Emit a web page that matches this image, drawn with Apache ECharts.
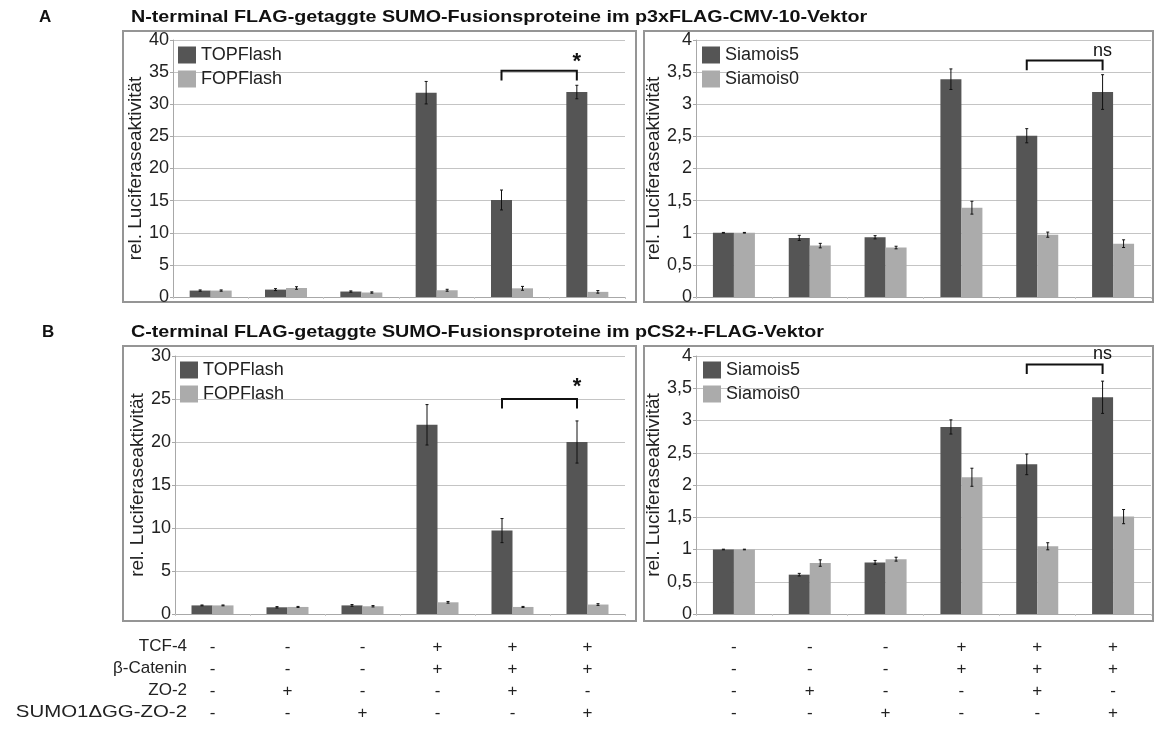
<!DOCTYPE html>
<html>
<head>
<meta charset="utf-8">
<script src="https://cdn.jsdelivr.net/npm/echarts@6/dist/echarts.min.js"></script>
<style>
  html, body { margin: 0; padding: 0; background: #ffffff; }
  #chart { width: 1155px; height: 736px; }
</style>
</head>
<body>
<div id="chart"></div>
<script>
// Transfection conditions per bar group
const conditionRows = ['TCF-4', 'β-Catenin', 'ZO-2', 'SUMO1ΔGG-ZO-2'];
const tcf4     = ['-', '-', '-', '+', '+', '+'];
const bCatenin = ['-', '-', '-', '+', '+', '+'];
const zo2      = ['-', '+', '-', '-', '+', '-'];
const sumoZo2  = ['-', '-', '+', '-', '-', '+'];

// A: N-terminal FLAG fusions (p3xFLAG-CMV-10)
const aTop      = [1.0, 1.15, 0.85, 31.8, 15.1, 31.9];
const aTopErr   = [0.1, 0.15, 0.1, 1.75, 1.55, 1.05];
const aFop      = [1.0, 1.4, 0.7, 1.05, 1.35, 0.8];
const aFopErr   = [0.1, 0.2, 0.1, 0.15, 0.3, 0.2];
const aSia5     = [1.0, 0.92, 0.93, 3.39, 2.51, 3.19];
const aSia5Err  = [0.005, 0.04, 0.025, 0.16, 0.11, 0.27];
const aSia0     = [1.0, 0.80, 0.77, 1.39, 0.97, 0.83];
const aSia0Err  = [0.005, 0.035, 0.02, 0.1, 0.04, 0.06];

// B: C-terminal FLAG fusions (pCS2+-FLAG)
const bTop      = [1.0, 0.78, 1.0, 22.0, 9.7, 20.0];
const bTopErr   = [0.05, 0.08, 0.1, 2.35, 1.4, 2.45];
const bFop      = [1.0, 0.82, 0.9, 1.36, 0.82, 1.1];
const bFopErr   = [0.05, 0.06, 0.08, 0.1, 0.06, 0.1];
const bSia5     = [1.0, 0.61, 0.80, 2.90, 2.32, 3.36];
const bSia5Err  = [0.005, 0.02, 0.03, 0.11, 0.16, 0.25];
const bSia0     = [1.0, 0.79, 0.85, 2.12, 1.05, 1.51];
const bSia0Err  = [0.005, 0.05, 0.03, 0.14, 0.055, 0.11];

// Significance brackets: [fromGroup, toGroup, lineValue, tipValue, labelValue, label]
const aTopBracket = [4, 5, 35.2, 33.7, 36.6, '*'];
const aSiaBracket = [4, 5, 3.68, 3.53, 3.83, 'ns'];
const bTopBracket = [4, 5, 25.0, 23.9, 26.4, '*'];
const bSiaBracket = [4, 5, 3.87, 3.72, 4.03, 'ns'];

const titleA = 'N-terminal FLAG-getaggte SUMO-Fusionsproteine im p3xFLAG-CMV-10-Vektor';
const titleB = 'C-terminal FLAG-getaggte SUMO-Fusionsproteine im pCS2+-FLAG-Vektor';
const yName = 'rel. Luciferaseaktivität';

const FONT = "'Liberation Sans', Arial, sans-serif";
const DARK = '#555555';
const LIGHT = '#ababab';
const BAR_W = 21;

const categories = tcf4.map((_, i) => [tcf4[i], bCatenin[i], zo2[i], sumoZo2[i]].join('\n'));

const grids = [
  { left: 173, top: 40, width: 452, height: 257 },
  { left: 696, top: 40, width: 455, height: 257 },
  { left: 175, top: 356, width: 450, height: 258 },
  { left: 696, top: 356, width: 455, height: 258 }
];

const yScales = [
  { max: 40, interval: 5 },
  { max: 4, interval: 0.5 },
  { max: 30, interval: 5 },
  { max: 4, interval: 0.5 }
];

const xAxes = grids.map((g, i) => ({
  type: 'category',
  gridIndex: i,
  data: categories,
  axisLine: { show: true, lineStyle: { color: '#a8a8a8', width: 1 } },
  axisTick: { show: true, length: 2, lineStyle: { color: '#c8c8c8' } },
  axisLabel: {
    show: i >= 2,
    interval: 0,
    margin: 22,
    fontFamily: FONT,
    fontSize: 17,
    lineHeight: 22,
    color: '#222222'
  }
}));

const yAxes = yScales.map((s, i) => ({
  type: 'value',
  gridIndex: i,
  min: 0,
  max: s.max,
  interval: s.interval,
  name: yName,
  nameLocation: 'middle',
  nameGap: 28,
  nameTextStyle: { fontFamily: FONT, fontSize: 19, color: '#222222' },
  axisLine: { show: true, lineStyle: { color: '#a8a8a8', width: 1 } },
  axisTick: { show: true, length: 3, lineStyle: { color: '#a8a8a8' } },
  axisLabel: {
    margin: 4,
    fontFamily: FONT,
    fontSize: 18,
    color: '#222222',
    formatter: v => String(v).replace('.', ',')
  },
  splitLine: { show: true, lineStyle: { color: '#c4c4c4', width: 1 } }
}));

function barSeries(name, values, gridIdx, color) {
  return {
    type: 'bar',
    name: name,
    xAxisIndex: gridIdx,
    yAxisIndex: gridIdx,
    data: values,
    barWidth: BAR_W,
    barGap: '0%',
    itemStyle: { color: color },
    silent: true
  };
}

function errorSeries(values, errs, gridIdx, offset) {
  return {
    type: 'custom',
    xAxisIndex: gridIdx,
    yAxisIndex: gridIdx,
    silent: true,
    z: 5,
    data: values.map((v, i) => [i, v, errs[i]]),
    renderItem: function (params, api) {
      const i = api.value(0), v = api.value(1), e = api.value(2);
      const hi = api.coord([i, v + e]);
      const lo = api.coord([i, v - e]);
      const x = hi[0] + offset;
      const style = { stroke: '#111111', lineWidth: 1 };
      return {
        type: 'group',
        children: [
          { type: 'line', shape: { x1: x, y1: hi[1], x2: x, y2: lo[1] }, style: style },
          { type: 'line', shape: { x1: x - 1.5, y1: hi[1], x2: x + 1.5, y2: hi[1] }, style: style },
          { type: 'line', shape: { x1: x - 1.5, y1: lo[1], x2: x + 1.5, y2: lo[1] }, style: style }
        ]
      };
    }
  };
}

function bracketSeries(b, gridIdx) {
  const isStar = b[5] === '*';
  return {
    type: 'custom',
    xAxisIndex: gridIdx,
    yAxisIndex: gridIdx,
    silent: true,
    clip: false,
    z: 6,
    data: [b.slice(0, 5)],
    renderItem: function (params, api) {
      const off = -BAR_W / 2;
      const a1 = api.coord([api.value(0), api.value(2)]);
      const a2 = api.coord([api.value(1), api.value(2)]);
      const t1 = api.coord([api.value(0), api.value(3)]);
      const t2 = api.coord([api.value(1), api.value(3)]);
      const lab = api.coord([(api.value(0) + api.value(1)) / 2, api.value(4)]);
      return {
        type: 'group',
        children: [
          {
            type: 'polyline',
            shape: { points: [[t1[0] + off, t1[1]], [a1[0] + off, a1[1]], [a2[0] + off, a2[1]], [t2[0] + off, t2[1]]] },
            style: { stroke: '#111111', lineWidth: 2, fill: null }
          },
          {
            type: 'text',
            style: {
              text: b[5],
              x: lab[0] + off,
              y: lab[1],
              align: 'center',
              verticalAlign: 'middle',
              font: (isStar ? 'bold 22px ' : '18px ') + FONT,
              fill: '#111111'
            }
          }
        ]
      };
    }
  };
}

const series = [
  barSeries('TOPFlash', aTop, 0, DARK),
  barSeries('FOPFlash', aFop, 0, LIGHT),
  errorSeries(aTop, aTopErr, 0, -BAR_W / 2),
  errorSeries(aFop, aFopErr, 0, BAR_W / 2),
  bracketSeries(aTopBracket, 0),

  barSeries('Siamois5', aSia5, 1, DARK),
  barSeries('Siamois0', aSia0, 1, LIGHT),
  errorSeries(aSia5, aSia5Err, 1, -BAR_W / 2),
  errorSeries(aSia0, aSia0Err, 1, BAR_W / 2),
  bracketSeries(aSiaBracket, 1),

  barSeries('TOPFlash', bTop, 2, DARK),
  barSeries('FOPFlash', bFop, 2, LIGHT),
  errorSeries(bTop, bTopErr, 2, -BAR_W / 2),
  errorSeries(bFop, bFopErr, 2, BAR_W / 2),
  bracketSeries(bTopBracket, 2),

  barSeries('Siamois5', bSia5, 3, DARK),
  barSeries('Siamois0', bSia0, 3, LIGHT),
  errorSeries(bSia5, bSia5Err, 3, -BAR_W / 2),
  errorSeries(bSia0, bSia0Err, 3, BAR_W / 2),
  bracketSeries(bSiaBracket, 3)
];

function legend(names, left, top) {
  return {
    data: names,
    orient: 'vertical',
    left: left,
    top: top,
    padding: 0,
    icon: 'rect',
    itemWidth: 18,
    itemHeight: 17,
    itemGap: 6,
    selectedMode: false,
    textStyle: { fontFamily: FONT, fontSize: 18, color: '#222222' }
  };
}

// Titles are set in a slightly widened bold face
function heading(text, x, y) {
  return {
    type: 'text',
    silent: true,
    x: x,
    y: y,
    scaleX: 1.16,
    style: { text: text, x: 0, y: 0, verticalAlign: 'middle', font: 'bold 17px ' + FONT, fill: '#111111' }
  };
}

const boxStyle = { stroke: '#959595', lineWidth: 2, fill: null };
const graphics = [
  { type: 'rect', shape: { x: 123, y: 31, width: 513, height: 271 }, style: boxStyle, silent: true },
  { type: 'rect', shape: { x: 644, y: 31, width: 509, height: 271 }, style: boxStyle, silent: true },
  { type: 'rect', shape: { x: 123, y: 346, width: 513, height: 275 }, style: boxStyle, silent: true },
  { type: 'rect', shape: { x: 644, y: 346, width: 509, height: 275 }, style: boxStyle, silent: true },
  { type: 'text', silent: true, style: { text: 'A', x: 39, y: 17, verticalAlign: 'middle', font: 'bold 17px ' + FONT, fill: '#111111' } },
  heading(titleA, 131, 17),
  { type: 'text', silent: true, style: { text: 'B', x: 42, y: 332, verticalAlign: 'middle', font: 'bold 17px ' + FONT, fill: '#111111' } },
  heading(titleB, 131, 332)
];
conditionRows.forEach((label, r) => {
  const wide = label.length > 10;
  graphics.push({
    type: 'text',
    silent: true,
    x: 187,
    y: 646 + r * 22,
    scaleX: wide ? 1.2 : 1,
    style: {
      text: label,
      x: 0,
      y: 0,
      align: 'right',
      verticalAlign: 'middle',
      font: '17px ' + FONT,
      fill: '#222222'
    }
  });
});

const chart = echarts.init(document.getElementById('chart'), null, { renderer: 'canvas' });
chart.setOption({
  animation: false,
  backgroundColor: '#ffffff',
  grid: grids,
  xAxis: xAxes,
  yAxis: yAxes,
  legend: [
    legend(['TOPFlash', 'FOPFlash'], 178, 46),
    legend(['Siamois5', 'Siamois0'], 702, 46),
    legend(['TOPFlash', 'FOPFlash'], 180, 361),
    legend(['Siamois5', 'Siamois0'], 703, 361)
  ],
  series: series,
  graphic: graphics
});
</script>
</body>
</html>
